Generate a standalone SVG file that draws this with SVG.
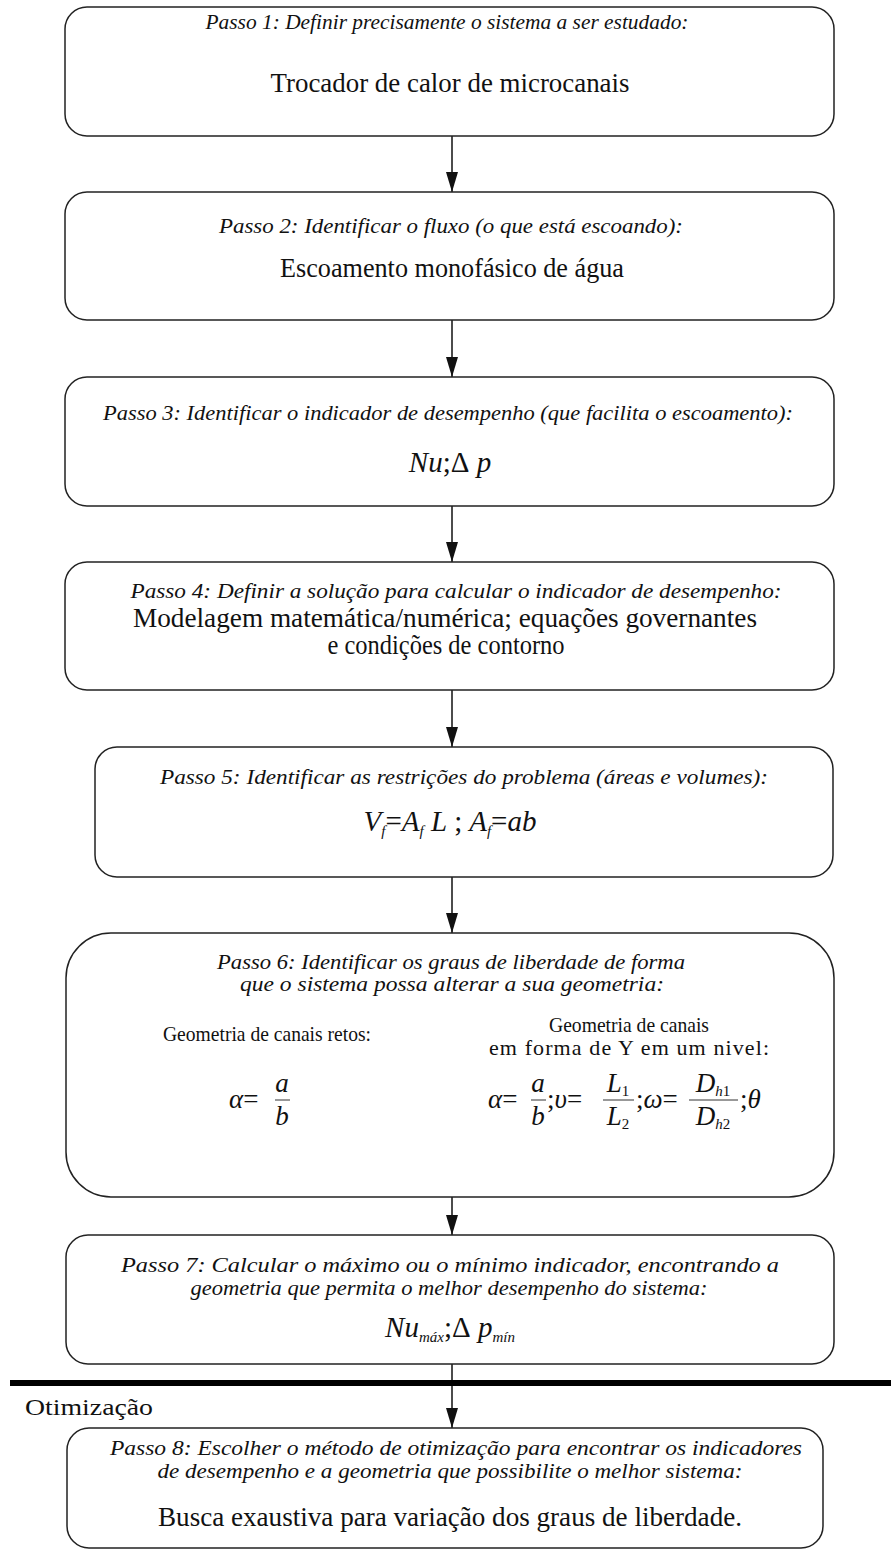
<svg xmlns="http://www.w3.org/2000/svg" width="891" height="1551" viewBox="0 0 891 1551">
<style>
.box{fill:#fff;stroke:#222;stroke-width:1.5}
.t{font-family:"Liberation Serif",serif;font-style:italic;font-size:21px;fill:#111;text-anchor:middle}
.m{font-family:"Liberation Serif",serif;font-size:27px;fill:#111;text-anchor:middle}
.s{font-family:"Liberation Serif",serif;font-size:22px;fill:#111;text-anchor:middle}
.f{font-family:"Liberation Serif",serif;font-size:27px;fill:#111;font-style:italic}
.f2{font-family:"Liberation Serif",serif;font-size:29px;fill:#111;font-style:italic}
.sub{font-size:15px}
.bar{stroke:#333;stroke-width:1}
.conn{stroke:#111;stroke-width:1.5;fill:none}
</style>
<defs>
<marker id="arr" viewBox="0 0 20 12" refX="20" refY="6" markerWidth="20" markerHeight="12" markerUnits="userSpaceOnUse" orient="auto">
<path d="M0,0 L20,6 L0,12 z" fill="#111"/>
</marker>
</defs>
<rect x="0" y="0" width="891" height="1551" fill="#fff"/>

<g id="connectors">
<line class="conn" x1="452" y1="136" x2="452" y2="192" marker-end="url(#arr)"/>
<line class="conn" x1="452" y1="320" x2="452" y2="377" marker-end="url(#arr)"/>
<line class="conn" x1="452" y1="506" x2="452" y2="562" marker-end="url(#arr)"/>
<line class="conn" x1="452" y1="690" x2="452" y2="747" marker-end="url(#arr)"/>
<line class="conn" x1="452" y1="877" x2="452" y2="933" marker-end="url(#arr)"/>
<line class="conn" x1="452" y1="1197" x2="452" y2="1235" marker-end="url(#arr)"/>
<line class="conn" x1="452" y1="1364" x2="452" y2="1428" marker-end="url(#arr)"/>
</g>

<g id="divider">
<line x1="10" y1="1383" x2="891" y2="1383" stroke="#000" stroke-width="6"/>
<text x="25" y="1415" font-family="Liberation Serif, serif" font-size="24" fill="#111" textLength="128" lengthAdjust="spacingAndGlyphs">Otimização</text>
</g>

<g id="step1">
<rect class="box" x="65" y="7" width="769" height="129" rx="22"/>
<text class="t" x="447" y="29" textLength="483" lengthAdjust="spacingAndGlyphs">Passo 1: Definir precisamente o sistema a ser estudado:</text>
<text class="m" x="450" y="92" textLength="359" lengthAdjust="spacingAndGlyphs">Trocador de calor de microcanais</text>
</g>

<g id="step2">
<rect class="box" x="65" y="192" width="769" height="128" rx="22"/>
<text class="t" x="451" y="233" textLength="464" lengthAdjust="spacingAndGlyphs">Passo 2: Identificar o fluxo (o que está escoando):</text>
<text class="m" x="452" y="277" textLength="344" lengthAdjust="spacingAndGlyphs">Escoamento monofásico de água</text>
</g>

<g id="step3">
<rect class="box" x="65" y="377" width="769" height="129" rx="22"/>
<text class="t" x="448" y="420" textLength="690" lengthAdjust="spacingAndGlyphs">Passo 3: Identificar o indicador de desempenho (que facilita o escoamento):</text>
<text class="f2" x="450" y="472" text-anchor="middle">Nu<tspan font-style="normal">;Δ</tspan> p</text>
</g>

<g id="step4">
<rect class="box" x="65" y="562" width="769" height="128" rx="22"/>
<text class="t" x="456" y="598" textLength="651" lengthAdjust="spacingAndGlyphs">Passo 4: Definir a solução para calcular o indicador de desempenho:</text>
<text class="m" x="445" y="627" textLength="624" lengthAdjust="spacingAndGlyphs">Modelagem matemática/numérica; equações governantes</text>
<text class="m" x="446" y="654" textLength="237" lengthAdjust="spacingAndGlyphs">e condições de contorno</text>
</g>

<g id="step5">
<rect class="box" x="95" y="747" width="738" height="130" rx="22"/>
<text class="t" x="464" y="784" textLength="608" lengthAdjust="spacingAndGlyphs">Passo 5: Identificar as restrições do problema (áreas e volumes):</text>
<text class="f2" x="450" y="831" text-anchor="middle">V<tspan class="sub" dy="5">f</tspan><tspan dy="-5" font-style="normal">=</tspan>A<tspan class="sub" dy="5">f</tspan><tspan dy="-5"> L</tspan><tspan font-style="normal"> ;</tspan> A<tspan class="sub" dy="5">f</tspan><tspan dy="-5" font-style="normal">=</tspan>ab</text>
</g>

<g id="step6">
<rect class="box" x="66" y="933" width="768" height="264" rx="45"/>
<text class="t" x="451" y="969" textLength="468" lengthAdjust="spacingAndGlyphs">Passo 6: Identificar os graus de liberdade de forma</text>
<text class="t" x="452" y="991" textLength="424" lengthAdjust="spacingAndGlyphs">que o sistema possa alterar a sua geometria:</text>
<text class="s" x="267" y="1041" textLength="208" lengthAdjust="spacingAndGlyphs">Geometria de canais retos:</text>
<text class="s" x="629" y="1032" textLength="160" lengthAdjust="spacingAndGlyphs">Geometria de canais</text>
<text class="s" x="629" y="1055" textLength="280" lengthAdjust="spacing">em forma de Y em um nivel:</text>
<!-- left formula -->
<text class="f" x="229" y="1108">α<tspan font-style="normal">=</tspan></text>
<line class="bar" x1="275" y1="1100" x2="290" y2="1100"/>
<text class="f" x="282" y="1092" text-anchor="middle">a</text>
<text class="f" x="282" y="1125" text-anchor="middle">b</text>
<!-- right formula -->
<text class="f" x="488" y="1108">α<tspan font-style="normal">=</tspan></text>
<line class="bar" x1="531" y1="1100" x2="546" y2="1100"/>
<text class="f" x="538" y="1092" text-anchor="middle">a</text>
<text class="f" x="538" y="1125" text-anchor="middle">b</text>
<text class="f" x="547" y="1108"><tspan font-style="normal">;</tspan>υ<tspan font-style="normal">=</tspan></text>
<line class="bar" x1="603" y1="1100" x2="634" y2="1100"/>
<text class="f" x="618" y="1092" text-anchor="middle">L<tspan class="sub" font-style="normal" dy="4">1</tspan></text>
<text class="f" x="618" y="1125" text-anchor="middle">L<tspan class="sub" font-style="normal" dy="4">2</tspan></text>
<text class="f" x="636" y="1108"><tspan font-style="normal">;</tspan>ω<tspan font-style="normal">=</tspan></text>
<line class="bar" x1="689" y1="1100" x2="738" y2="1100"/>
<text class="f" x="713" y="1092" text-anchor="middle">D<tspan class="sub" dy="4">h</tspan><tspan class="sub" font-style="normal">1</tspan></text>
<text class="f" x="713" y="1125" text-anchor="middle">D<tspan class="sub" dy="4">h</tspan><tspan class="sub" font-style="normal">2</tspan></text>
<text class="f" x="740" y="1108"><tspan font-style="normal">;</tspan>θ</text>
</g>

<g id="step7">
<rect class="box" x="66" y="1235" width="768" height="129" rx="22"/>
<text class="t" x="450" y="1272" textLength="658" lengthAdjust="spacingAndGlyphs">Passo 7: Calcular o máximo ou o mínimo indicador, encontrando a</text>
<text class="t" x="449" y="1295" textLength="517" lengthAdjust="spacingAndGlyphs">geometria que permita o melhor desempenho do sistema:</text>
<text class="f2" x="450" y="1337" text-anchor="middle">Nu<tspan class="sub" dy="5">máx</tspan><tspan dy="-5" font-style="normal">;Δ</tspan> p<tspan class="sub" dy="5">mín</tspan></text>
</g>

<g id="step8">
<rect class="box" x="67" y="1428" width="756" height="120" rx="22"/>
<text class="t" x="456" y="1455" textLength="692" lengthAdjust="spacingAndGlyphs">Passo 8: Escolher o método de otimização para encontrar os indicadores</text>
<text class="t" x="450" y="1478" textLength="585" lengthAdjust="spacingAndGlyphs">de desempenho e a geometria que possibilite o melhor sistema:</text>
<text class="m" x="450" y="1526" textLength="584" lengthAdjust="spacingAndGlyphs">Busca exaustiva para variação dos graus de liberdade.</text>
</g>
</svg>
